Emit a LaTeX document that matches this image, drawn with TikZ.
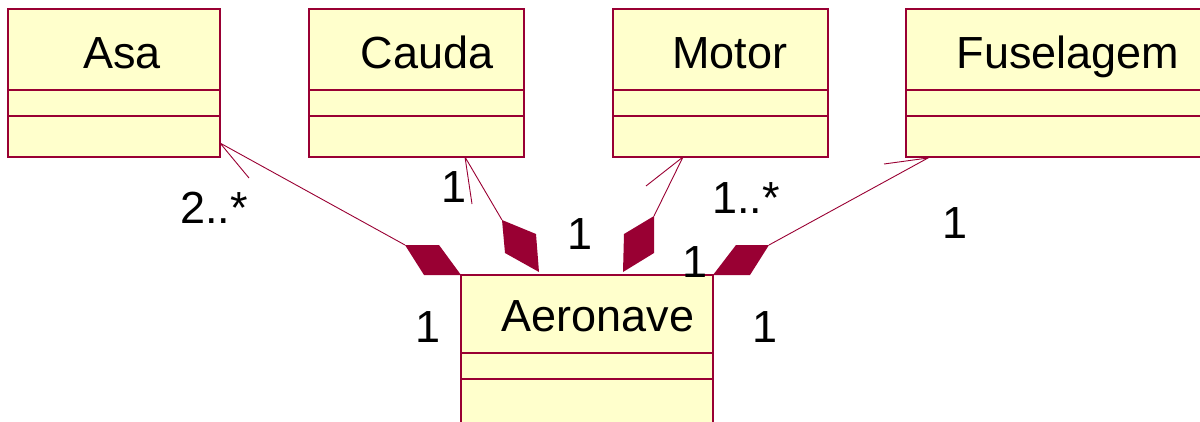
\documentclass[tikz,border=0pt]{standalone}
\usepackage{fontspec}
\setmainfont{Liberation Sans}
\definecolor{umlred}{HTML}{990033}
\definecolor{umlfill}{HTML}{FFFFCC}
\begin{document}
\begin{tikzpicture}[x=1pt,y=-1pt,
  cls/.style={draw=umlred, line width=1.6pt, fill=umlfill, inner sep=0pt, outer sep=0pt, anchor=north west, minimum height=148pt},
  sep/.style={draw=umlred, line width=1.2pt},
  assoc/.style={draw=umlred, line width=0.9pt},
  agg/.style={fill=umlred, draw=none},
  lbl/.style={inner sep=0pt, anchor=base, font=\fontsize{45}{54}\selectfont},
  mult/.style={inner sep=0pt, anchor=base, font=\fontsize{45}{54}\selectfont}]
\useasboundingbox (0,0) rectangle (1200,421);
\clip (0,0) rectangle (1200,421);
% connector end points
\coordinate (asaTip) at (220,143);
\coordinate (asaBarb) at (249,178);
\coordinate (asaEnd) at (405,245);
\coordinate (caudaTip) at (465,157);
\coordinate (caudaBarb) at (472,204);
\coordinate (caudaEnd) at (502,220);
\coordinate (motorTip) at (683,157);
\coordinate (motorBarb) at (646,186);
\coordinate (motorEnd) at (654,216);
\coordinate (fusTip) at (928,158);
\coordinate (fusBarb) at (884,164);
\coordinate (fusEnd) at (769,245);
% connectors
\draw[assoc] (asaEnd) -- (asaTip) -- (asaBarb);
\draw[assoc] (caudaEnd) -- (caudaTip) -- (caudaBarb);
\draw[assoc] (motorEnd) -- (motorTip) -- (motorBarb);
\draw[assoc] (fusEnd) -- (fusTip) -- (fusBarb);
% aggregation diamonds
\fill[agg] (asaEnd) -- (439,245) -- (461,275) -- (424,275) -- cycle;
\fill[agg] (caudaEnd) -- (536,234) -- (539,272) -- (505,253) -- cycle;
\fill[agg] (motorEnd) -- (654,253) -- (623,272) -- (624,234) -- cycle;
\fill[agg] (fusEnd) -- (750,275) -- (713,275) -- (736,245) -- cycle;
% classes
\node[cls, minimum width=212pt] (asa) at (8,9) {};
\node[cls, minimum width=215pt] (cauda) at (309,9) {};
\node[cls, minimum width=215pt] (motor) at (613,9) {};
\node[cls, minimum width=330pt] (fus) at (906,9) {};
\node[cls, minimum width=252pt, minimum height=160pt] (aero) at (461,275) {};
\foreach \b in {asa,cauda,motor,fus}{
  \draw[sep] (\b.west |- 0,90) -- (\b.east |- 0,90);
  \draw[sep] (\b.west |- 0,116) -- (\b.east |- 0,116);
}
\draw[sep] (aero.west |- 0,353) -- (aero.east |- 0,353);
\draw[sep] (aero.west |- 0,379) -- (aero.east |- 0,379);
% class names
\node[lbl] (tasa) at (122,68) {Asa};
\node[lbl] (tcauda) at (427,68) {Cauda};
\node[lbl] (tmotor) at (730,68) {Motor};
\node[lbl] (tfus) at (1068,68) {Fuselagem};
\node[lbl] (taero) at (598,331) {Aeronave};
% multiplicities
\node[mult] (m1) at (214,223) {2..*};
\node[mult] (m2) at (454,202) {1};
\node[mult] (m3) at (580,249) {1};
\node[mult] (m4) at (746,213) {1..*};
\node[mult] (m5) at (695,277) {1};
\node[mult] (m6) at (955,238) {1};
\node[mult] (m7) at (428,342) {1};
\node[mult] (m8) at (765,342) {1};
\end{tikzpicture}
\end{document}
